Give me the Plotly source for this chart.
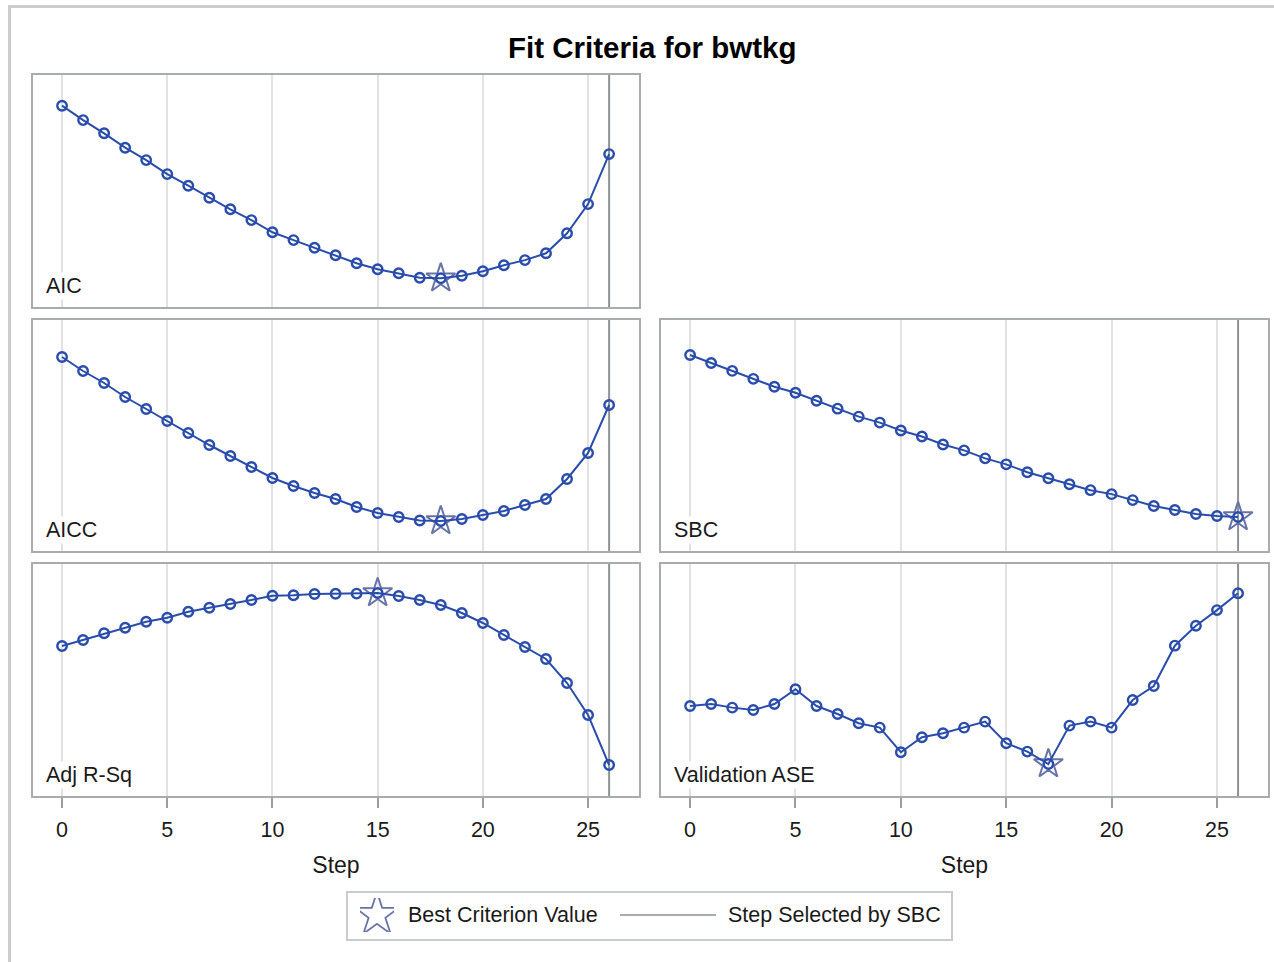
import plotly.graph_objects as go

# ---- data -------------------------------------------------------------
steps = [0, 1, 2, 3, 4, 5, 6, 7, 8, 9, 10, 11, 12, 13,
         14, 15, 16, 17, 18, 19, 20, 21, 22, 23, 24, 25, 26]

aic = [-1613.7, -1620.9, -1627.5, -1634.7, -1640.9, -1647.9, -1653.7,
       -1659.7, -1665.5, -1670.9, -1677.0, -1680.9, -1684.7, -1688.5,
       -1692.5, -1695.5, -1697.5, -1699.7, -1700.0, -1698.7, -1696.5,
       -1693.5, -1690.9, -1687.5, -1677.5, -1662.9, -1637.9]

aicc = [-1608.0, -1615.0, -1621.0, -1628.0, -1634.0, -1640.0, -1646.0,
        -1652.0, -1657.5, -1663.0, -1668.5, -1672.5, -1676.0, -1679.0,
        -1683.0, -1686.0, -1688.0, -1689.75, -1690.0, -1689.0, -1687.0,
        -1685.0, -1682.0, -1679.0, -1669.0, -1656.0, -1632.0]

sbc = [-1498.5, -1502.5, -1506.5, -1510.5, -1514.5, -1517.5, -1521.5,
       -1525.5, -1529.5, -1532.5, -1536.5, -1539.5, -1543.5, -1546.5,
       -1550.5, -1553.5, -1557.5, -1560.5, -1563.5, -1566.5, -1568.5,
       -1571.5, -1574.5, -1576.5, -1578.5, -1579.5, -1580.0]

adj_rsq = [0.6190, 0.6250, 0.6317, 0.6373, 0.6433, 0.6473, 0.6533,
           0.6573, 0.6610, 0.6650, 0.6693, 0.6697, 0.6710, 0.6712,
           0.6714, 0.6720, 0.6690, 0.6650, 0.6600, 0.6520, 0.6420,
           0.6300, 0.6180, 0.6060, 0.5820, 0.5500, 0.5000]

val_ase = [0.2290, 0.2300, 0.2282, 0.2270, 0.2300, 0.2374, 0.2290,
           0.2250, 0.2204, 0.2182, 0.2059, 0.2134, 0.2154, 0.2182,
           0.2212, 0.2104, 0.2062, 0.2000, 0.2192, 0.2212, 0.2182,
           0.2320, 0.2390, 0.2592, 0.2692, 0.2770, 0.2854]

x_ticks = [0, 5, 10, 15, 20, 25]

# ---- styling ----------------------------------------------------------
W, H = 1274, 962
FONT = "Arial, 'Liberation Sans', sans-serif"
BLUE = "#2A4DAB"
STAR = "#6873A8"
REF = "#8E9296"
FRAME = "#A9ABAD"
GRID = "#E2E2E2"
TXT = "#1A1A1A"
FS = 21.5

COL_X = [(33, 639), (661, 1268)]
ROW_Y = [(75, 307), (320, 551), (564, 796)]


def xdom(c):
    a, b = COL_X[c]
    return [a / W, b / W]


def ydom(r):
    t, b = ROW_Y[r]
    return [1 - b / H, 1 - t / H]


# (label, values, best-is-max, row, col, pad_top_px, pad_bottom_px)
panels = [
    ("AIC", aic, False, 0, 0, 30.7, 28.7),
    ("AICC", aicc, False, 1, 0, 37, 30),
    ("SBC", sbc, False, 1, 1, 35, 34),
    ("Adj R-Sq", adj_rsq, True, 2, 0, 29, 31),
    ("Validation ASE", val_ase, False, 2, 1, 29.3, 32),
]

selected_step = steps[sbc.index(min(sbc))]

fig = go.Figure()
layout = dict(
    width=W, height=H,
    margin=dict(l=0, r=0, t=0, b=0),
    paper_bgcolor="white", plot_bgcolor="white",
    showlegend=False,
    font=dict(family=FONT, color=TXT, size=FS),
)
annotations = []
shapes = []

for i, (label, vals, best_max, r, c, pt, pb) in enumerate(panels, start=1):
    xa = "x" if i == 1 else f"x{i}"
    ya = "y" if i == 1 else f"y{i}"
    bottom = (r == 2)

    best = max(vals) if best_max else min(vals)
    bi = vals.index(best)

    # best-criterion star underneath the series
    fig.add_trace(go.Scatter(
        x=[steps[bi]], y=[best], mode="markers", xaxis=xa, yaxis=ya,
        marker=dict(symbol="star-open", size=22, color=STAR,
                    line=dict(width=2, color=STAR)),
        hoverinfo="skip"))
    fig.add_trace(go.Scatter(
        x=steps, y=vals, mode="lines+markers", xaxis=xa, yaxis=ya,
        line=dict(color=BLUE, width=2),
        marker=dict(symbol="circle-open", size=9.5, color=BLUE,
                    line=dict(width=2.4, color=BLUE)),
        name=label))

    lo, hi = min(vals), max(vals)
    ph = ROW_Y[r][1] - ROW_Y[r][0]
    upp = (hi - lo) / (ph - pt - pb)
    yr = [lo - pb * upp, hi + pt * upp]

    xkey = "xaxis" if i == 1 else f"xaxis{i}"
    ykey = "yaxis" if i == 1 else f"yaxis{i}"
    layout[xkey] = dict(
        domain=xdom(c), anchor=ya, range=[-1.38, 27.42],
        tickvals=x_ticks, showgrid=True, gridcolor=GRID, gridwidth=1.5,
        zeroline=False, showline=True, mirror=True,
        linecolor=FRAME, linewidth=2,
        showticklabels=bottom,
        ticks="outside" if bottom else "", ticklen=10, tickwidth=1.5,
        tickcolor="#9A9EA2", ticklabelstandoff=3,
        tickfont=dict(size=FS, color=TXT, family=FONT),
        title=dict(text="Step", font=dict(size=23, color=TXT, family=FONT),
                   standoff=16) if bottom else None,
    )
    layout[ykey] = dict(
        domain=ydom(r), anchor=xa, range=yr,
        showgrid=False, zeroline=False, showticklabels=False, ticks="",
        showline=True, mirror=True, linecolor=FRAME, linewidth=2,
    )

    # step chosen by SBC
    shapes.append(dict(type="line", xref=xa, yref=f"{ya} domain",
                       x0=selected_step, x1=selected_step, y0=0, y1=1,
                       line=dict(color=REF, width=2), layer="below"))

    annotations.append(dict(
        text=label, xref=f"{xa} domain", yref=f"{ya} domain",
        x=0, y=0, xanchor="left", yanchor="bottom",
        xshift=11, yshift=7, showarrow=False, bgcolor="white",
        borderpad=1, font=dict(size=FS, color=TXT, family=FONT)))

# title
annotations.append(dict(
    text="<b>Fit Criteria for bwtkg</b>", xref="paper", yref="paper",
    x=652 / W, y=1 - 47 / H, xanchor="center", yanchor="middle",
    showarrow=False, font=dict(size=29.5, color="#000000", family=FONT)))

# outer frame (open to the right and bottom)
shapes.append(dict(type="rect", xref="paper", yref="paper",
                   x0=9.5 / W, x1=1.05, y0=-0.05, y1=1 - 6.5 / H,
                   line=dict(color="#CDCDCD", width=3), layer="below"))

# ---- legend -----------------------------------------------------------
LG = (347, 952, 892, 940)
shapes.append(dict(type="rect", xref="paper", yref="paper",
                   x0=LG[0] / W, x1=LG[1] / W,
                   y0=1 - LG[3] / H, y1=1 - LG[2] / H,
                   line=dict(color="#C9CBCD", width=2)))
ly = 1 - 915 / H
shapes.append(dict(type="line", xref="paper", yref="paper",
                   x0=620 / W, x1=716 / W, y0=ly, y1=ly,
                   line=dict(color=REF, width=1.5)))
annotations.append(dict(text="Best Criterion Value", xref="paper",
                        yref="paper", x=406 / W, y=ly, xanchor="left",
                        yanchor="middle", showarrow=False,
                        font=dict(size=FS, color=TXT, family=FONT)))
annotations.append(dict(text="Step Selected by SBC", xref="paper",
                        yref="paper", x=726 / W, y=ly, xanchor="left",
                        yanchor="middle", showarrow=False,
                        font=dict(size=FS, color=TXT, family=FONT)))

# legend key axis
fig.add_trace(go.Scatter(
    x=[0.5], y=[0.5], mode="markers", xaxis="x6", yaxis="y6",
    marker=dict(symbol="star-open", size=33, color=STAR,
                line=dict(width=1.8, color=STAR)),
    hoverinfo="skip"))
layout["xaxis6"] = dict(domain=[360 / W, 394 / W], range=[0, 1],
                        visible=False, fixedrange=True)
layout["yaxis6"] = dict(domain=[1 - 932 / H, 1 - 898 / H], range=[0, 1],
                        visible=False, fixedrange=True, anchor="x6")

layout["annotations"] = annotations
layout["shapes"] = shapes
fig.update_layout(**layout)

fig.write_html("out.html")
